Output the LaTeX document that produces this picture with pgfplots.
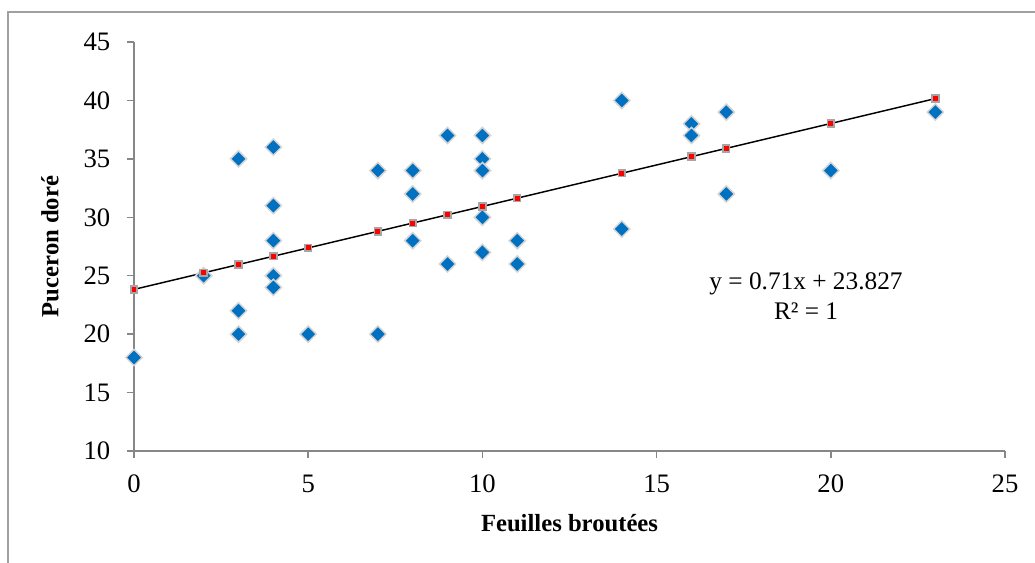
\documentclass[border=0pt]{standalone}
\usepackage{fontspec}
\setmainfont{Liberation Serif}
\usepackage{pgfplots}
\pgfplotsset{compat=1.18}
\definecolor{ptblue}{HTML}{0070C0}
\definecolor{axgray}{HTML}{878787}
\definecolor{mkgray}{HTML}{D4D4D4}
\definecolor{framegray}{HTML}{A0A0A0}

\begin{document}
\begin{tikzpicture}
\useasboundingbox (-100.5pt,-84pt) rectangle (675.75pt,338.25pt);
\draw[framegray, line width=0.9pt] (-94.5pt,-84pt) -- (-94.5pt,329.25pt) -- (675.75pt,329.25pt);
\begin{axis}[
    at={(0pt,0pt)}, anchor=south west,
    scale only axis,
    width=653.25pt, height=306.75pt,
    xmin=0, xmax=25, ymin=10, ymax=45,
    xtick={0,5,...,25}, ytick={10,15,...,45},
    axis x line*=bottom, axis y line*=left,
    axis line style={axgray, line width=1.1pt},
    tick align=outside,
    major tick length=5.25pt,
    tick style={axgray, line width=1.1pt},
    tick label style={font=\fontsize{20}{20}\selectfont},
    xticklabel style={yshift=-9pt},
    yticklabel style={xshift=-9pt},
    /pgf/number format/assume math mode=true,
    xlabel={\textbf{Feuilles broutées}},
    ylabel={\textbf{Puceron doré}},
    every axis x label/.style={at={(axis description cs:0.5,-0.176)}, anchor=center,
        font=\fontsize{18.5}{18.5}\selectfont},
    every axis y label/.style={at={(axis description cs:-0.0964,0.5)}, rotate=90, anchor=center,
        font=\fontsize{18.5}{18.5}\selectfont},
    clip=false,
]
% observed values
\addplot[only marks, mark=square*, mark size=4.3pt,
    mark options={rotate=45, fill=ptblue, draw=mkgray, line width=1.1pt}]
coordinates {
    (0,18) (2,25) (3,35) (3,22) (3,20)
    (4,36) (4,31) (4,28) (4,25) (4,24)
    (5,20) (7,34) (7,20) (8,34) (8,32) (8,28)
    (9,37) (9,26) (10,37) (10,35) (10,34) (10,30) (10,27)
    (11,28) (11,26) (14,40) (14,29) (16,38) (16,37)
    (17,39) (17,32) (20,34) (23,39)
};
% fitted values
\addplot[black, line width=1.1pt, mark=square*, mark size=2.5pt,
    mark options={fill=red, draw=gray!70, line width=1.3pt}]
coordinates {
    (0,23.827) (2,25.247) (3,25.957) (4,26.667) (5,27.377)
    (7,28.797) (8,29.507) (9,30.217) (10,30.927) (11,31.637)
    (14,33.767) (16,35.187) (17,35.897) (20,38.027) (23,40.157)
};
\node[align=center, font=\fontsize{19}{23}\selectfont] at (axis cs:19.29,23.26)
    {y = 0.71x + 23.827\\R² = 1};
\end{axis}
\end{tikzpicture}
\end{document}
